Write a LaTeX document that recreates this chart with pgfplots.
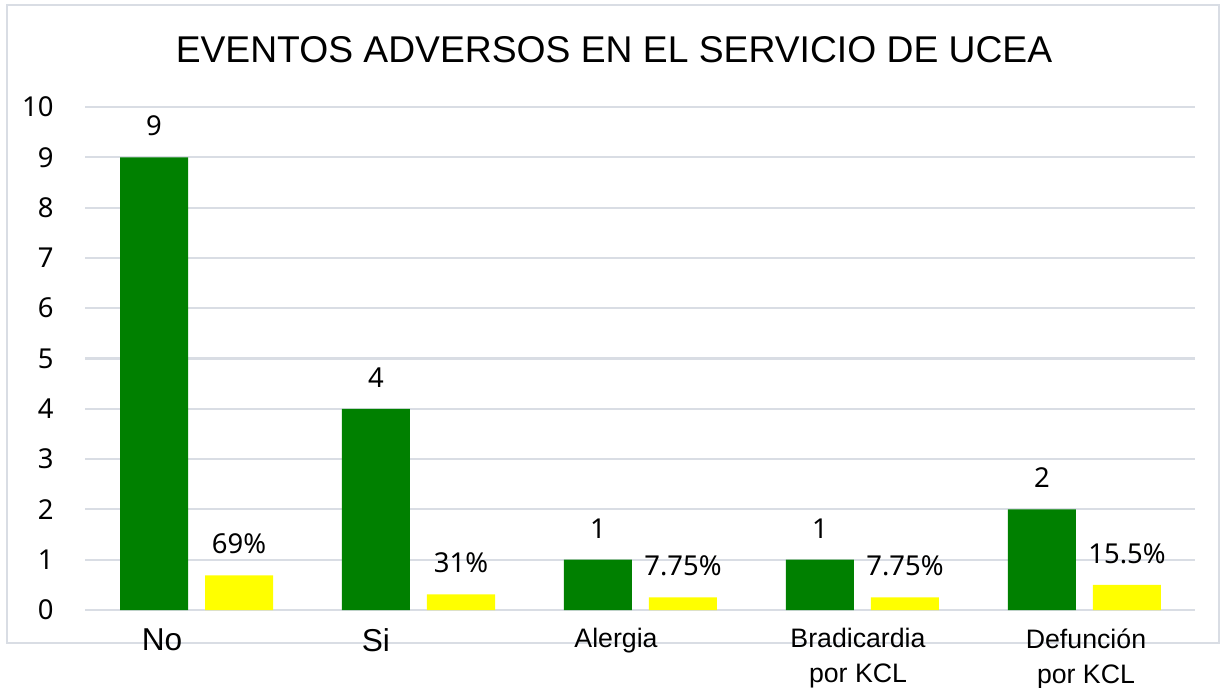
\documentclass[border=0pt]{standalone}
\usepackage{pgfplots}
\pgfplotsset{compat=1.18}
\usepackage{fontspec}
\setmainfont{Liberation Sans}
\newfontfamily\numfont{Noto Sans}
\definecolor{bargreen}{RGB}{0,128,0}
\definecolor{baryellow}{RGB}{255,255,0}
\definecolor{gridc}{RGB}{217,221,228}
\definecolor{borderc}{RGB}{217,221,228}
\begin{document}
\begin{tikzpicture}[x=1cm,y=1cm]
\useasboundingbox (0,0) rectangle (12.27,6.87);
\draw[borderc, line width=0.6pt] (0.07,0.44) rectangle (12.19,6.82);
\node[font=\fontsize{10.6}{12}\selectfont] at (6.14,6.37) {EVENTOS ADVERSOS EN EL SERVICIO DE UCEA};
\begin{axis}[
  at={(0.85cm,0.77cm)}, anchor=south west,
  scale only axis, width=11.10cm, height=5.03cm,
  xmin=-0.5, xmax=4.5, ymin=0, ymax=10,
  axis line style={draw=none},
  tick style={draw=none},
  ymajorgrids, grid style={gridc, line width=0.6pt},
  ytick={0,1,...,10},
  xtick={-0.153,0.81,1.892,2.982,4.009},
  xticklabels={{\fontsize{9}{10}\selectfont No},{\fontsize{9}{10}\selectfont Si},Alergia,{Bradicardia\\por KCL},{Defunción\\por KCL}},
  xticklabel style={font=\fontsize{7.6}{10}\selectfont, align=center, anchor=north, yshift=-0.06cm},
  yticklabel style={font=\numfont\fontsize{7.8}{9}\selectfont, anchor=east, xshift=-0.19cm},
  /pgf/number format/assume math mode=true,
  major tick length=0pt,
  ybar,
  bar width=0.68cm,
  nodes near coords,
  every node near coord/.append style={font=\numfont\fontsize{7.8}{9}\selectfont, yshift=0.09cm},
  clip=false,
]
\addplot[bar shift=-0.42cm, fill=bargreen, draw=none] coordinates {(0,9) (1,4) (2,1) (3,1) (4,2)};
\addplot[bar shift=0.43cm, fill=baryellow, draw=none,
  point meta=explicit symbolic] coordinates {(0,0.69) [69\%] (1,0.31) [31\%] (2,0.25) [7.75\%] (3,0.25) [7.75\%] (4,0.5) [15.5\%]};
\end{axis}
\end{tikzpicture}
\end{document}
